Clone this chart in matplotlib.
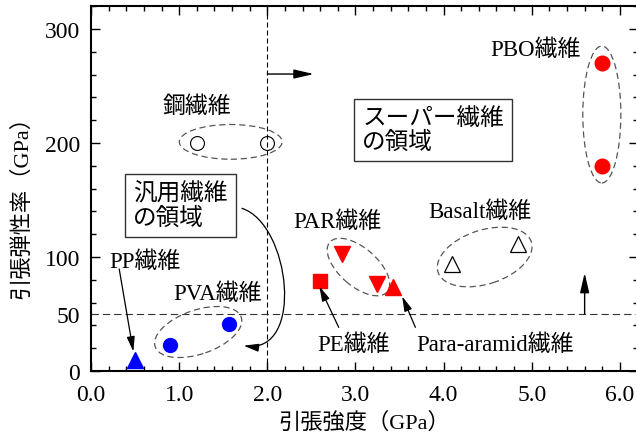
import matplotlib
matplotlib.use("Agg")
import matplotlib.pyplot as plt
import matplotlib.transforms as mtransforms
from matplotlib.patches import Ellipse, FancyArrowPatch
from matplotlib.path import Path

plt.rcParams['font.family'] = ['Liberation Serif', 'Noto Sans CJK JP']

# 繊維ごとの 引張強度 (GPa) と 引張弾性率 (GPa)
pp_strength = [0.5]
pp_modulus = [10]
pva_strength = [0.9, 1.56]
pva_modulus = [23, 41]
steel_strength = [1.2, 2.0]
steel_modulus = [200, 200]
pe_strength = [2.6]
pe_modulus = [79]
par_strength = [2.85, 3.25]
par_modulus = [103, 76]
aramid_strength = [3.43]
aramid_modulus = [74]
basalt_strength = [4.1, 4.84]
basalt_modulus = [94, 111]
pbo_strength = [5.8, 5.8]
pbo_modulus = [270, 180]

# 汎用繊維とスーパー繊維の境界
strength_border = 2.0
modulus_border = 50

x_ticks = [0, 1, 2, 3, 4, 5, 6]
x_tick_labels = ['0.0', '1.0', '2.0', '3.0', '4.0', '5.0', '6.0']
y_ticks = [0, 50, 100, 200, 300]
y_tick_labels = ['0', '50', '100', '200', '300']

fig = plt.figure(figsize=(6.36, 4.39), dpi=100)
ax = fig.add_axes([0.1431, 0.1526, 0.8593, 0.831])
ax.set_xlim(0, 6.2)
ax.set_ylim(0, 320)

ax.set_xticks(x_ticks)
ax.set_xticklabels(x_tick_labels)
ax.set_xticks([i * 0.2 for i in range(32)], minor=True)
ax.set_yticks(y_ticks)
ax.set_yticklabels(y_tick_labels)
ax.set_yticks(list(range(0, 321, 20)), minor=True)
ax.tick_params(which='both', direction='in', top=True, right=True, labelsize=17, width=1.0)
ax.tick_params(which='major', length=6.5)
ax.tick_params(which='minor', length=3.5)
ax.tick_params(axis='x', which='major', pad=9)
ax.tick_params(axis='y', which='major', pad=8)
# 50 は目盛り線なしでラベルだけ
ax.yaxis.get_major_ticks()[1].tick1line.set_visible(False)
ax.yaxis.get_major_ticks()[1].tick2line.set_visible(False)
for s in ax.spines.values():
    s.set_linewidth(1.5)

ax.set_xlabel('引張強度（GPa）', fontsize=16)
ax.set_ylabel('引張弾性率（GPa）', fontsize=16)
ax.xaxis.set_label_coords(0.5, -0.112)
ax.yaxis.set_label_coords(-0.108, 0.466)

# 境界線
ax.axvline(strength_border, color='black', lw=0.8, ls=(0, (4.5, 2.7)), zorder=1)
ax.axhline(modulus_border, color='#333333', lw=0.8, ls=(0, (6.6, 3.6)), zorder=1)

# データ点
ax.plot(pp_strength, pp_modulus, '^', color='blue', ms=11.5, zorder=3)
ax.plot(pva_strength, pva_modulus, 'o', color='blue', ms=10, zorder=3)
ax.plot(steel_strength, steel_modulus, 'o', mfc='none', mec='black', mew=0.8, ms=10, zorder=3)
ax.plot(pe_strength, pe_modulus, 's', color='red', ms=9.5, zorder=3)
ax.plot(par_strength, par_modulus, 'v', color='red', ms=11.5, zorder=3)
ax.plot(aramid_strength, aramid_modulus, '^', color='red', ms=11.5, zorder=3)
ax.plot(basalt_strength, basalt_modulus, '^', mfc='none', mec='black', mew=0.9, ms=12, zorder=3)
ax.plot(pbo_strength, pbo_modulus, 'o', color='red', ms=10.5, zorder=3)


def ring(cx, cy, w, h, angle=0):
    # 幅と高さはポイント単位、中心はデータ座標
    tr = (mtransforms.Affine2D().scale(1 / 72) + fig.dpi_scale_trans
          + mtransforms.ScaledTranslation(cx, cy, ax.transData))
    ax.add_patch(Ellipse((0, 0), w, h, angle=angle, transform=tr, fill=False,
                         ec='#555555', lw=0.9, ls=(0, (5, 3)), zorder=2))


ring(1.585, 201, 74, 25)
ring(1.216, 34.2, 65.5, 31.7, 19)
ring(3.034, 91.2, 54.7, 27.4, -41)
ring(4.466, 100, 70.6, 38.9, 18)
ring(5.795, 225, 27.4, 98.6)

# ラベル
label_kw = dict(fontsize=16.5, ha='center', va='center')
ax.text(1.20, 232, '鋼繊維', **label_kw)
ax.text(5.045, 282.5, 'PBO繊維', **label_kw)
ax.text(2.79, 131.8, 'PAR繊維', **label_kw)
ax.text(4.41, 140, 'Basalt繊維', **label_kw)
ax.text(0.614, 96.5, 'PP繊維', **label_kw)
ax.text(1.43, 68.4, 'PVA繊維', **label_kw)
ax.text(2.98, 23.7, 'PE繊維', **label_kw)
ax.text(4.58, 23.7, 'Para-aramid繊維', **label_kw)

box_kw = dict(boxstyle='square,pad=0.35', fc='white', ec='#333333', lw=1.0)
ax.text(0.477, 145.2, '汎用繊維\nの領域', fontsize=17, ha='left', va='center',
        linespacing=1.1, bbox=box_kw, zorder=4)
ax.text(3.076, 211.4, 'スーパー繊維\nの領域', fontsize=17, ha='left', va='center',
        linespacing=1.1, bbox=box_kw, zorder=4)

# 矢印
big_head = '-|>,head_length=0.6,head_width=0.14'
small_head = '-|>,head_length=0.45,head_width=0.12'
ax.annotate('', xy=(2.526, 260.5), xytext=(strength_border, 260.5),
            arrowprops=dict(arrowstyle=big_head, mutation_scale=20, color='black',
                            lw=1.0, shrinkA=0, shrinkB=0))
ax.annotate('', xy=(5.6, 86), xytext=(5.6, modulus_border),
            arrowprops=dict(arrowstyle=big_head, mutation_scale=20, color='black',
                            lw=1.0, shrinkA=0, shrinkB=0))
for tip, tail in [((0.48, 17), (0.32, 89.5)),
                  ((2.59, 74.3), (2.81, 38.3)),
                  ((3.53, 65.5), (3.68, 38.3))]:
    ax.annotate('', xy=tip, xytext=tail,
                arrowprops=dict(arrowstyle=small_head, mutation_scale=20, color='black',
                                lw=0.9, shrinkA=0, shrinkB=0))

curve = Path([(1.712, 142.7), (2.26, 129), (2.43, 14.9), (1.731, 22.2)],
             [Path.MOVETO, Path.CURVE4, Path.CURVE4, Path.CURVE4])
ax.add_patch(FancyArrowPatch(path=curve, arrowstyle=small_head, mutation_scale=20,
                             color='black', lw=0.9, zorder=4))

fig.savefig('out.png', dpi=100)
